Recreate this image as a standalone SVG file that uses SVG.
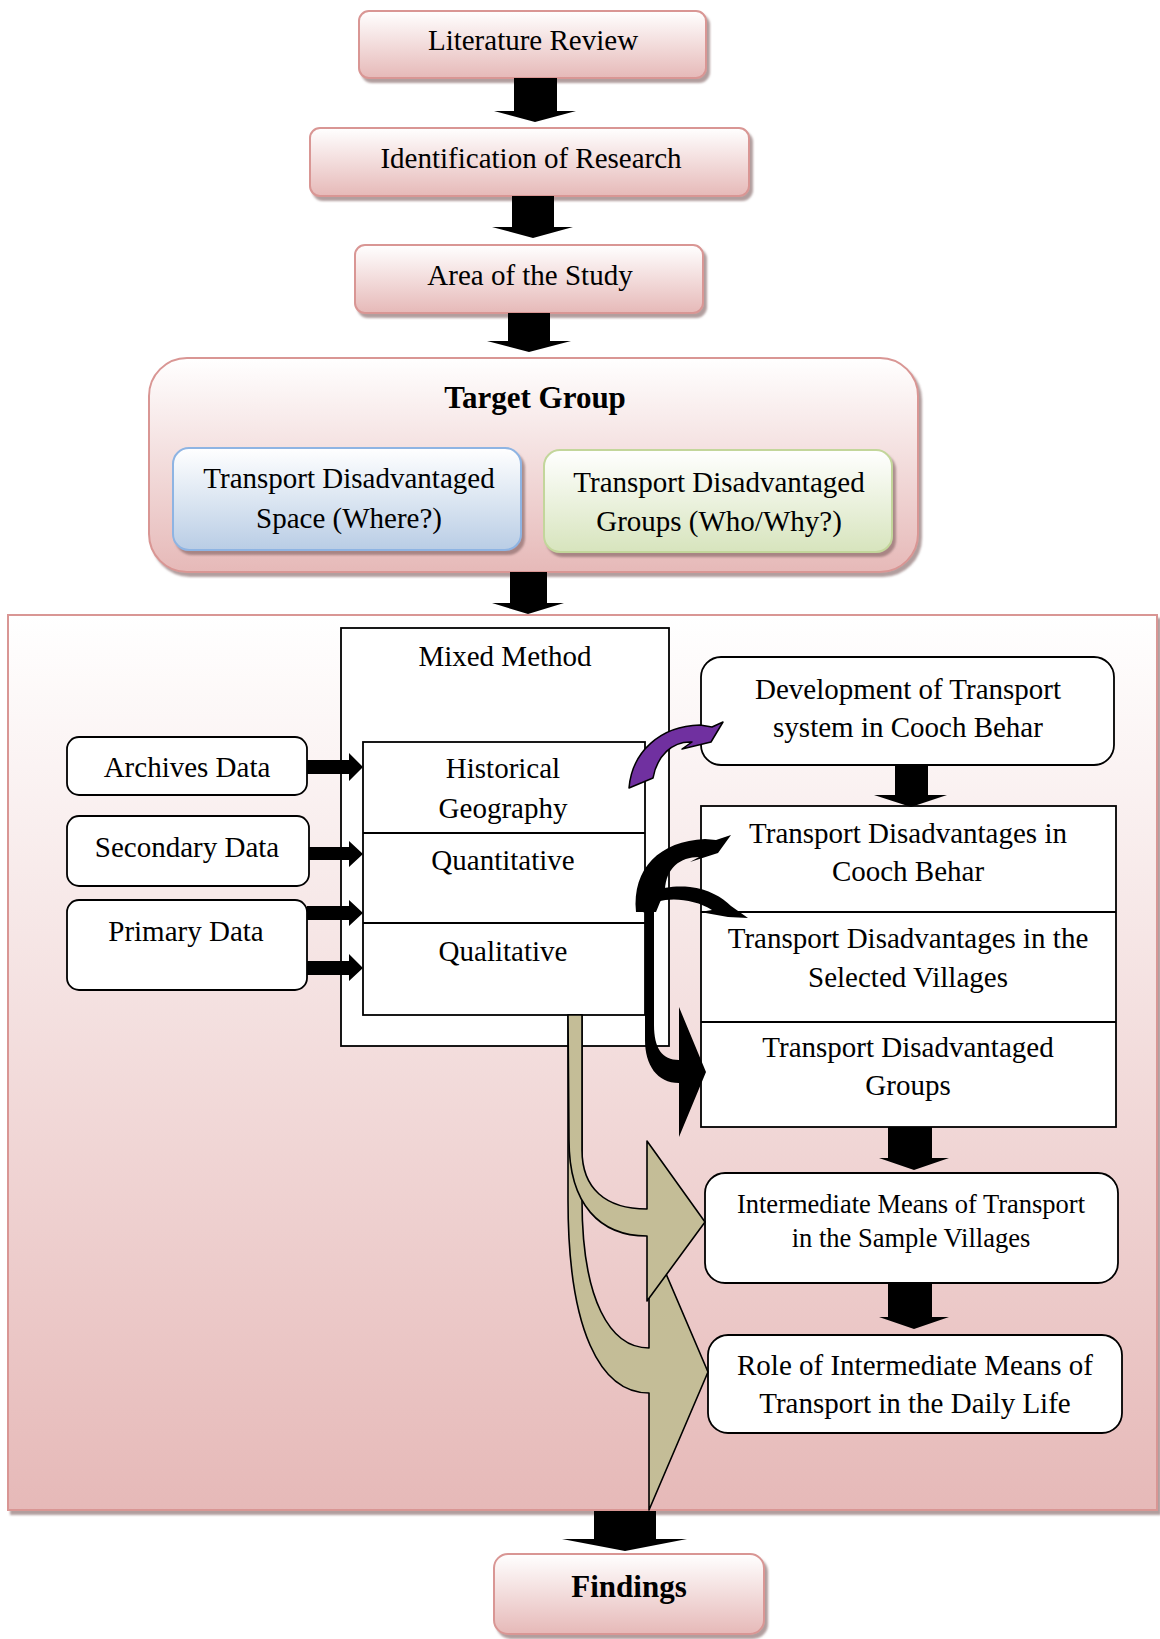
<svg xmlns="http://www.w3.org/2000/svg" width="1160" height="1639" viewBox="0 0 1160 1639">
<defs>
<linearGradient id="gPink" x1="0" y1="0" x2="0" y2="1"><stop offset="0" stop-color="#ffffff"/><stop offset="1" stop-color="#e6b9b8"/></linearGradient>
<linearGradient id="gBlue" x1="0" y1="0" x2="0" y2="1"><stop offset="0" stop-color="#ffffff"/><stop offset="1" stop-color="#b9cde5"/></linearGradient>
<linearGradient id="gGreen" x1="0" y1="0" x2="0" y2="1"><stop offset="0" stop-color="#ffffff"/><stop offset="1" stop-color="#d7e4bd"/></linearGradient>
<filter id="sh" x="-5%" y="-5%" width="115%" height="125%"><feDropShadow dx="3" dy="4" stdDeviation="1.2" flood-color="#7f5f5f" flood-opacity="0.6"/></filter>
<style>
text{font-family:"Liberation Serif","Times New Roman",serif;font-size:29px;fill:#000;text-anchor:middle}
.b{font-weight:bold;font-size:31px}
.s{font-size:26.5px}
.pink{fill:url(#gPink);stroke:#d99694;stroke-width:2}
.wb{fill:#fff;stroke:#000;stroke-width:1.8}
.blk{fill:#000}
.tan{fill:#c4bd97;stroke:#000;stroke-width:1.6;stroke-linejoin:round}
.pur{fill:#7030a0;stroke:#000;stroke-width:1.5;stroke-linejoin:round}
</style>
</defs>
<rect width="1160" height="1639" fill="#fff"/>

<g id="panel">
<rect x="8" y="615" width="1149" height="895" fill="url(#gPink)" stroke="#d99694" stroke-width="2" filter="url(#sh)"/>
</g>

<g id="literature-review">
<rect class="pink" x="359" y="11" width="347" height="67" rx="10" filter="url(#sh)"/>
<text x="533" y="50">Literature Review</text>
</g>
<g id="identification">
<rect class="pink" x="310" y="128" width="439" height="68" rx="10" filter="url(#sh)"/>
<text x="531" y="168">Identification of Research</text>
</g>
<g id="area">
<rect class="pink" x="355" y="245" width="348" height="68" rx="10" filter="url(#sh)"/>
<text x="530" y="285">Area of the Study</text>
</g>
<g id="target-group">
<rect class="pink" x="149" y="358" width="769" height="214" rx="38" filter="url(#sh)"/>
<text class="b" x="535" y="408">Target Group</text>
</g>
<g id="td-space">
<rect x="173" y="448" width="348" height="102" rx="16" fill="url(#gBlue)" stroke="#8eb4e3" stroke-width="2" filter="url(#sh)"/>
<text x="349" y="488">Transport Disadvantaged</text>
<text x="349" y="528">Space (Where?)</text>
</g>
<g id="td-groups-who">
<rect x="544" y="450" width="348" height="102" rx="16" fill="url(#gGreen)" stroke="#c3d69b" stroke-width="2" filter="url(#sh)"/>
<text x="719" y="492">Transport Disadvantaged</text>
<text x="719" y="531">Groups (Who/Why?)</text>
</g>

<g id="mixed-method">
<rect class="wb" x="341" y="628" width="328" height="418"/>
<text x="505" y="666">Mixed Method</text>
</g>
<g id="methods">
<rect class="wb" x="363" y="742" width="282" height="273"/>
<line x1="363" y1="833" x2="645" y2="833" stroke="#000" stroke-width="1.8"/>
<line x1="363" y1="923" x2="645" y2="923" stroke="#000" stroke-width="1.8"/>
<text x="503" y="778">Historical</text>
<text x="503" y="818">Geography</text>
<text x="503" y="870">Quantitative</text>
<text x="503" y="961">Qualitative</text>
</g>
<g id="archives">
<rect class="wb" x="67" y="737" width="240" height="58" rx="12"/>
<text x="187" y="777">Archives Data</text>
</g>
<g id="secondary">
<rect class="wb" x="67" y="816" width="242" height="70" rx="12"/>
<text x="187" y="857">Secondary Data</text>
</g>
<g id="primary">
<rect class="wb" x="67" y="900" width="240" height="90" rx="12"/>
<text x="186" y="941">Primary Data</text>
</g>
<g id="development">
<rect class="wb" x="701" y="657" width="413" height="108" rx="20"/>
<text x="908" y="699">Development of Transport</text>
<text x="908" y="737">system in Cooch Behar</text>
</g>
<g id="td-stack">
<rect class="wb" x="701" y="806" width="415" height="321"/>
<line x1="701" y1="912" x2="1116" y2="912" stroke="#000" stroke-width="1.8"/>
<line x1="701" y1="1022" x2="1116" y2="1022" stroke="#000" stroke-width="1.8"/>
<text x="908" y="843">Transport Disadvantages in</text>
<text x="908" y="881">Cooch Behar</text>
<text x="908" y="948">Transport Disadvantages in the</text>
<text x="908" y="987">Selected Villages</text>
<text x="908" y="1057">Transport Disadvantaged</text>
<text x="908" y="1095">Groups</text>
</g>
<g id="imt">
<rect class="wb" x="705" y="1173" width="413" height="110" rx="20"/>
<text class="s" x="911" y="1213">Intermediate Means of Transport</text>
<text class="s" x="911" y="1247">in the Sample Villages</text>
</g>
<g id="role">
<rect class="wb" x="708" y="1335" width="414" height="98" rx="20"/>
<text x="915" y="1375">Role of Intermediate Means of</text>
<text x="915" y="1413">Transport in the Daily Life</text>
</g>
<g id="findings">
<rect class="pink" x="494" y="1554" width="270" height="80" rx="14" filter="url(#sh)"/>
<text class="b" x="629" y="1597">Findings</text>
</g>

<g id="connectors">
<polygon class="blk" points="514,78 557,78 557,111 576,111 535,122 494,111 514,111"/>
<polygon class="blk" points="512,196 554,196 554,227 573,227 533,238 492,227 512,227"/>
<polygon class="blk" points="508,313 550,313 550,341 571,341 529,352 487,341 508,341"/>
<polygon class="blk" points="510,572 547,572 547,603 564,603 528,614 492,603 510,603"/>
<polygon class="blk" points="895,765 928,765 928,795 947,795 911,807 874,795 895,795"/>
<polygon class="blk" points="888,1127 932,1127 932,1158 949,1158 914,1170 879,1158 888,1158"/>
<polygon class="blk" points="888,1283 932,1283 932,1317 949,1317 914,1329 879,1317 888,1317"/>
<polygon class="blk" points="594,1511 656,1511 656,1539 687,1539 625,1551 562,1539 594,1539"/>
<polygon class="blk" points="307,760 349,760 349,753 363,767 349,781 349,774 307,774"/>
<polygon class="blk" points="309,847 349,847 349,841 363,854 349,867 349,860 309,860"/>
<polygon class="blk" points="307,906 349,906 349,900 363,913 349,926 349,920 307,920"/>
<polygon class="blk" points="307,961 349,961 349,954 363,968 349,981 349,975 307,975"/>
<path class="pur" d="M629,788 C632,752 660,726 700,725 L712,727 L723,722 L711,742 L682,749 L692,742 C672,741 657,756 653,778 Z"/>
<path class="blk" d="M636,912 C632,868 660,841 705,839 L716,840 L731,835 L718,853 L690,862 L699,857 C680,857 666,868 665,890 L656,912 Z"/>
<path class="blk" d="M636,910 C645,890 665,885 690,887 C708,889 722,897 731,906 L748,918 L728,917 L700,912 L712,910 C696,900 672,897 658,902 L646,913 Z"/>
<path class="blk" d="M645,902 L654,902 L654,1025 C654,1048 662,1060 679,1060 L679,1007 L706,1072 L679,1137 L679,1083 C657,1083 645,1065 645,1040 Z"/>
<path class="tan" d="M568,1015 L582,1015 L582,1200 C582,1300 610,1348 649,1348 L649,1234 L708,1372 L649,1510 L649,1393 C600,1393 568,1330 568,1200 Z"/>
<path class="tan" d="M568,1015 L582,1015 L582,1150 C582,1188 605,1209 647,1209 L647,1141 L705,1222 L647,1301 L647,1236 C600,1236 569,1205 569,1140 Z"/>
</g>
</svg>
